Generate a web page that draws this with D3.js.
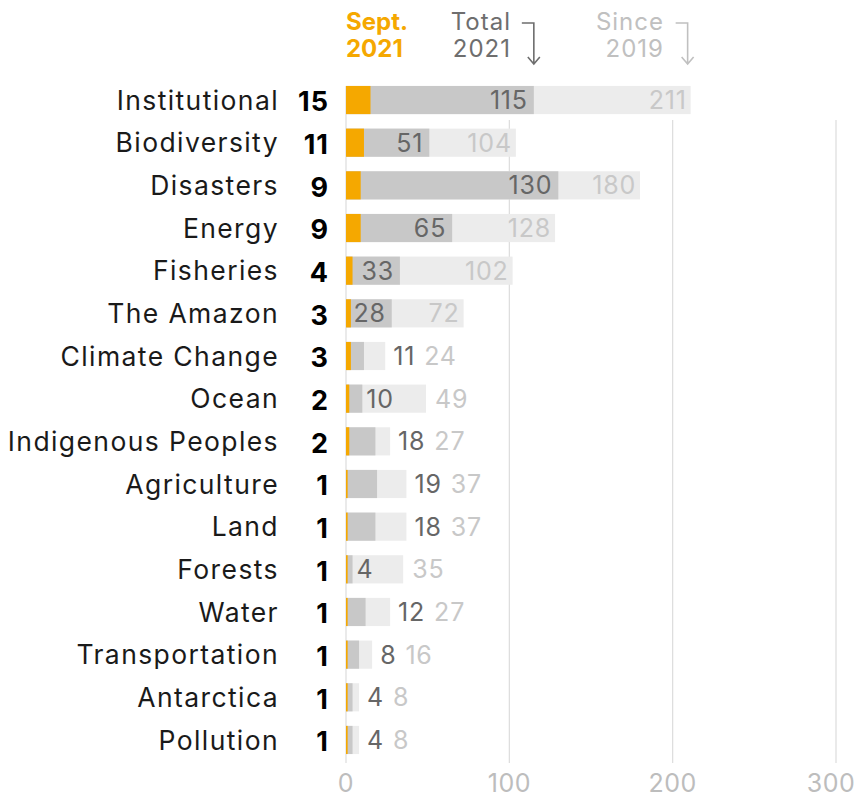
<!DOCTYPE html>
<style>
body { margin: 0; background: #fff; }
text { font-family: Inter, "Open Sans", sans-serif; }
</style>
<body>
<div id="chart"></div>
<script src="https://cdn.jsdelivr.net/npm/d3@7"></script>
<script>
var categories = ["Institutional", "Biodiversity", "Disasters", "Energy", "Fisheries", "The Amazon",
    "Climate Change", "Ocean", "Indigenous Peoples", "Agriculture", "Land", "Forests", "Water",
    "Transportation", "Antarctica", "Pollution"];
var sept2021 = [15, 11, 9, 9, 4, 3, 3, 2, 2, 1, 1, 1, 1, 1, 1, 1];
var total2021 = [115, 51, 130, 65, 33, 28, 11, 10, 18, 19, 18, 4, 12, 8, 4, 4];
var since2019 = [211, 104, 180, 128, 102, 72, 24, 49, 27, 37, 37, 35, 27, 16, 8, 8];
var xTicks = [0, 100, 200, 300];

var W = 858, H = 799;
var svg = d3.select("#chart").append("svg").attr("width", W).attr("height", H);

var x = d3.scaleLinear().domain([0, 300]).range([346, 836]);
var y = d3.scaleBand().domain(categories).range([78.7, 761.3]).paddingInner(0.34).paddingOuter(0.17);

// grid
svg.selectAll("line.grid").data(xTicks.slice(1)).enter().append("line")
    .attr("x1", d => x(d)).attr("x2", d => x(d))
    .attr("y1", 120).attr("y2", 763)
    .attr("stroke", "#dcdcdc").attr("stroke-width", 1.2);
svg.append("line")
    .attr("x1", x(0)).attr("x2", x(0)).attr("y1", 86).attr("y2", 763)
    .attr("stroke", "#dcdcdc").attr("stroke-width", 1.2);

// axis labels (last one kept inside the frame)
svg.selectAll("text.tick").data(xTicks).enter().append("text")
    .attr("x", d => Math.min(x(d), W - 27)).attr("y", 792)
    .attr("text-anchor", "middle")
    .attr("font-size", 25).attr("letter-spacing", 0.5).attr("fill", "#bdbdbd")
    .text(d => d);

var rows = svg.selectAll("g.row").data(categories).enter().append("g")
    .attr("transform", d => "translate(0," + y(d) + ")");
var bh = y.bandwidth();

rows.append("rect").attr("x", x(0)).attr("y", 0).attr("height", bh)
    .attr("width", (d, i) => x(since2019[i]) - x(0)).attr("fill", "#ececec");
rows.append("rect").attr("x", x(0)).attr("y", 0).attr("height", bh)
    .attr("width", (d, i) => x(total2021[i]) - x(0)).attr("fill", "#c8c8c8");
rows.append("rect").attr("x", x(0)).attr("y", 0).attr("height", bh)
    .attr("width", (d, i) => x(sept2021[i]) - x(0)).attr("fill", "#f5a800");

rows.append("text").attr("x", 279).attr("y", bh / 2).attr("dy", "0.36em")
    .attr("text-anchor", "end").attr("font-size", 26.5).attr("letter-spacing", 1.4).attr("fill", "#1a1a1a")
    .text(d => d);
rows.append("text").attr("x", 329).attr("y", bh / 2 + 1).attr("dy", "0.38em")
    .attr("text-anchor", "end").attr("font-size", 27).attr("font-weight", 700).attr("letter-spacing", 1)
    .attr("fill", "#000")
    .text((d, i) => sept2021[i]);

// value labels: inside the bar when they fit, otherwise after it
rows.each(function(d, i) {
    var g = d3.select(this);
    var gEnd = x(total2021[i]), lEnd = x(since2019[i]);
    var t = g.append("text").attr("y", bh / 2).attr("dy", "0.36em")
        .attr("font-size", 25).attr("letter-spacing", 0.8).attr("fill", "#666").text(total2021[i]);
    var tw = t.node().getComputedTextLength();
    var cursor;
    if (gEnd - x(0) >= tw + 8) {
        t.attr("x", gEnd - 6).attr("text-anchor", "end");
        cursor = gEnd;
    } else if (lEnd - gEnd >= tw + 14) {
        t.attr("x", gEnd + 4);
        cursor = gEnd + 4 + tw;
    } else {
        t.attr("x", lEnd + 8);
        cursor = lEnd + 8 + tw;
    }
    var s = g.append("text").attr("y", bh / 2).attr("dy", "0.36em")
        .attr("font-size", 25).attr("letter-spacing", 0.8).attr("fill", "#c8c8c8").text(since2019[i]);
    var sw = s.node().getComputedTextLength();
    if (lEnd - cursor >= sw + 16) {
        s.attr("x", lEnd - 4).attr("text-anchor", "end");
    } else {
        s.attr("x", Math.max(lEnd, cursor) + 9);
    }
});

// header
var hx0 = x(0);
svg.append("text").attr("x", hx0).attr("y", 30).attr("font-size", 24).attr("font-weight", 700)
    .attr("fill", "#f5a800").text("Sept.");
svg.append("text").attr("x", hx0).attr("y", 57).attr("font-size", 24).attr("font-weight", 700)
    .attr("fill", "#f5a800").text("2021");

function header(lines, xEnd, colour, arrowX) {
    lines.forEach(function(l, k) {
        svg.append("text").attr("x", xEnd).attr("y", 30 + k * 27).attr("text-anchor", "end")
            .attr("font-size", 24).attr("letter-spacing", 1).attr("fill", colour).text(l);
    });
    svg.append("path")
        .attr("d", "M" + (arrowX - 12) + ",23 H" + arrowX + " V64 M" + (arrowX - 6) + ",57 L" + arrowX + ",64 L" + (arrowX + 6) + ",57")
        .attr("fill", "none").attr("stroke", colour).attr("stroke-width", 1.6);
}
header(["Total", "2021"], 511, "#6e6e6e", x(total2021[0]));
header(["Since", "2019"], 664, "#c0c0c0", x(since2019[0]) - 3);
</script>
</body>
